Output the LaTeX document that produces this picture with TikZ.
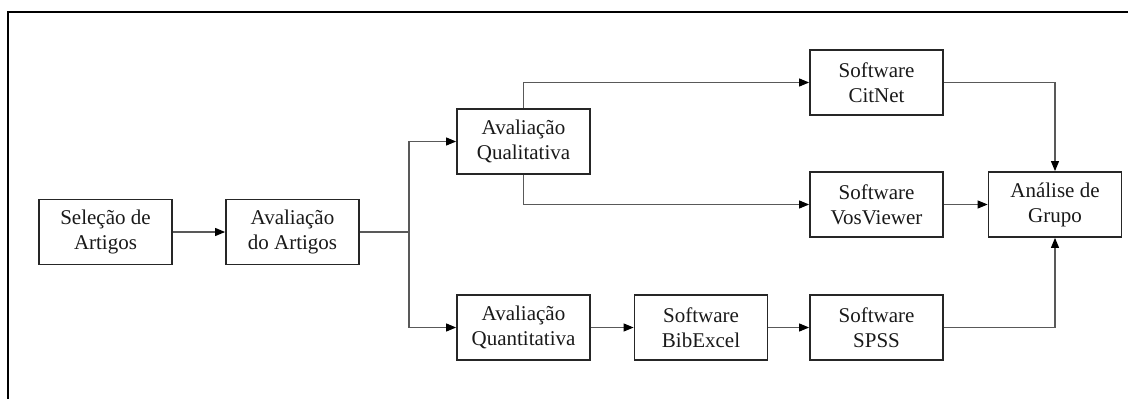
\documentclass[tikz,border=0pt]{standalone}
\usepackage{fontspec}
\setmainfont{Liberation Serif}
\usetikzlibrary{arrows.meta}
\begin{document}
\begin{tikzpicture}[x=1pt,y=-1pt,
  box/.style={draw=black!85, line width=1.8pt, minimum width=133pt, minimum height=65pt,
    align=center, inner sep=0pt, font=\fontsize{21}{25}\selectfont, text=black!90},
  conn/.style={draw=black!65, line width=1.1pt},
  arr/.style={conn, -{Triangle[length=10pt,width=8pt,fill=black,color=black]}}]
\useasboundingbox (0,0) rectangle (1128,399);
\draw[line width=2.8pt, black] (8,399) -- (8,12) -- (1128,12);
\node[box] (sel) at (105.5,232) {Seleção de\\Artigos};
\node[box] (ava) at (292.5,232) {Avaliação\\do Artigos};
\node[box] (qual) at (523.5,141.5) {Avaliação\\Qualitativa};
\node[box] (quant) at (523.5,327.5) {Avaliação\\Quantitativa};
\node[box] (bib) at (701,327.5) {Software\\BibExcel};
\node[box] (cit) at (876.5,82.5) {Software\\CitNet};
\node[box] (vos) at (876.5,204.5) {Software\\VosViewer};
\node[box] (spss) at (876.5,327.5) {Software\\SPSS};
\node[box] (ana) at (1055,204.5) {Análise de\\Grupo};
\coordinate (br) at (409,232);
\draw[arr] (sel) -- (ava);
\draw[conn] (ava.east) -- (br);
\draw[arr] (br) |- (qual.west);
\draw[arr] (br) |- (quant.west);
\draw[arr] (qual.north) |- (cit.west);
\draw[arr] (qual.south) |- (vos.west);
\draw[arr] (quant) -- (bib);
\draw[arr] (bib) -- (spss);
\draw[arr] (vos) -- (ana);
\draw[arr] (cit.east) -| (ana.north);
\draw[arr] (spss.east) -| (ana.south);
\end{tikzpicture}
\end{document}
